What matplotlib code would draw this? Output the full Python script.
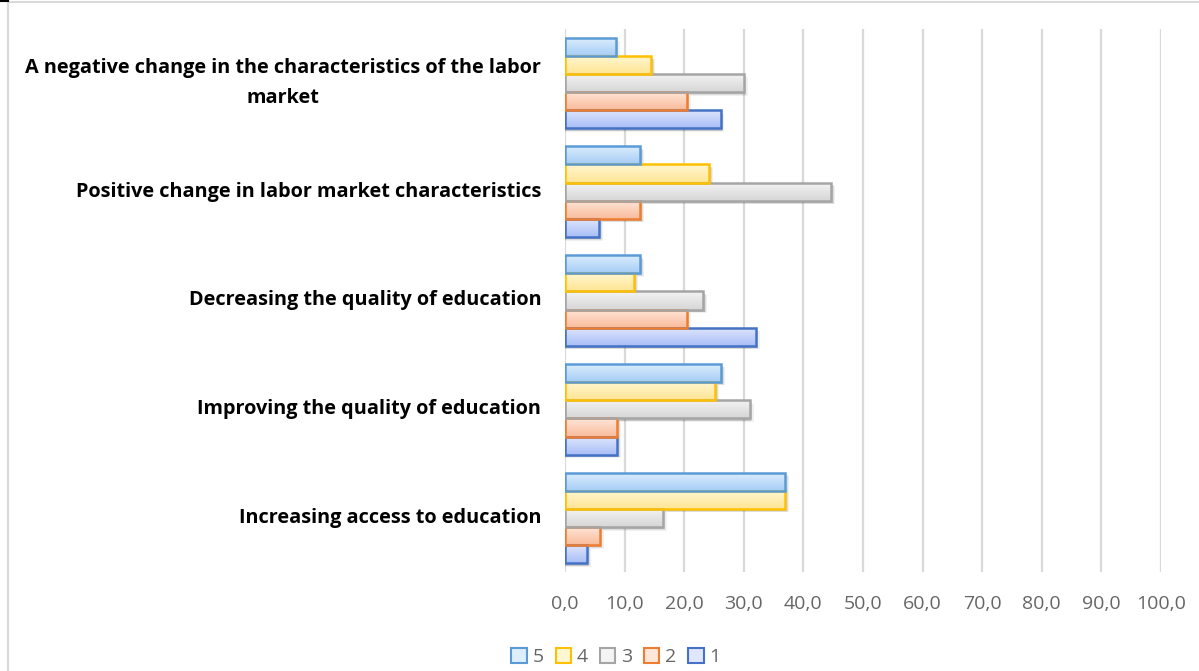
import matplotlib
matplotlib.use("Agg")
import matplotlib.pyplot as plt
import numpy as np
from matplotlib.colors import LinearSegmentedColormap
from matplotlib.lines import Line2D
from matplotlib.patches import Patch, Rectangle

categories = [
    "Increasing access to education",
    "Improving the quality of education",
    "Decreasing the quality of education",
    "Positive change in labor market characteristics",
    "A negative change in the characteristics of the labor\nmarket",
]
series_names = ["1", "2", "3", "4", "5"]
# values per series, in category order above (bottom -> top)
s1 = [3.7, 8.7, 32.0, 5.7, 26.1]
s2 = [5.8, 8.7, 20.4, 12.6, 20.4]
s3 = [16.4, 31.0, 23.2, 44.7, 30.0]
s4 = [36.9, 25.2, 11.6, 24.2, 14.5]
s5 = [36.9, 26.2, 12.6, 12.6, 8.5]
values = [s1, s2, s3, s4, s5]
xticks = np.arange(0, 101, 10)

# (edge, light top, darker bottom)
styles = [
    ("#4472C4", "#E0E7FD", "#A9BEF7"),
    ("#ED7D31", "#FFE6D8", "#F9BB9B"),
    ("#A5A5A5", "#F4F4F4", "#D6D6D6"),
    ("#FFC000", "#FFF7D2", "#FFE594"),
    ("#5B9BD5", "#DDEEFD", "#A6CDF5"),
]

fig = plt.figure(figsize=(11.99, 6.71), dpi=100)
ax = fig.add_axes([565 / 1199, 1 - 572.4 / 671, (1161 - 565) / 1199, (572.4 - 28.6) / 671])

y = np.arange(len(categories))
h = 0.167
grad = np.linspace(0, 1, 64).reshape(-1, 1)

for k, (vals, (edge, c_top, c_bot)) in enumerate(zip(values, styles)):
    offs = (k - 2) * h
    cmap = LinearSegmentedColormap.from_list(f"g{k}", [c_top, c_bot])
    # soft drop shadow
    for j, a in enumerate([0.10, 0.08, 0.06]):
        d = 0.4 + 0.35 * j
        ax.barh(y + offs - 0.02 - 0.006 * j, [v + d * 0.6 for v in vals], height=h,
                left=0, color="#000000", alpha=a, linewidth=0, zorder=2)
    bars = ax.barh(y + offs, vals, height=h, facecolor="none", edgecolor=edge,
                   linewidth=1.8, zorder=4)
    for b in bars:
        x0, y0 = b.get_x(), b.get_y()
        im = ax.imshow(grad, cmap=cmap, extent=[x0, x0 + b.get_width(), y0, y0 + b.get_height()],
                       origin="upper", aspect="auto", zorder=3, interpolation="bilinear")
        im.set_clip_path(b)
        ax.add_patch(Rectangle((x0, y0), b.get_width(), b.get_height(), facecolor=c_bot,
                               edgecolor="none", zorder=2.5))

ax.set_xlim(0, 100)
ax.set_ylim(-0.5, 4.5)
ax.set_aspect("auto")
ax.set_xticks(xticks)
ax.set_xticklabels([f"{t:.1f}".replace(".", ",") for t in xticks],
                   fontsize=14, color="#666666", family="Open Sans")
ax.tick_params(axis="x", length=0, pad=16)
ax.set_yticks(y)
ax.set_yticklabels([])
ax.tick_params(axis="y", length=0)
ax.grid(axis="x", color="#d9d9d9", linewidth=1.6, zorder=0)
ax.set_axisbelow(True)
for sp in ax.spines.values():
    sp.set_visible(False)

for yi, lab in zip(y, categories):
    ax.text(-4.0, yi, lab, ha="right", va="center", multialignment="center",
            fontsize=14.3, fontweight="bold", family="Open Sans", color="#000000",
            linespacing=1.7)

handles = [Patch(facecolor=styles[i][1], edgecolor=styles[i][0], linewidth=1.5)
           for i in range(4, -1, -1)]
labels = [series_names[i] for i in range(4, -1, -1)]
fig.legend(handles, labels, loc="center", bbox_to_anchor=(616 / 1199, 1 - 657 / 671),
           ncol=5, frameon=False, handlelength=0.8, handleheight=0.8,
           handletextpad=0.3, columnspacing=0.6, labelcolor="#666666",
           prop={"family": "Open Sans", "size": 14})

# chart area border
fig.add_artist(Line2D([8 / 1199, 8 / 1199], [0, 1 - 1.5 / 671], color="#d9d9d9", lw=1.5))
fig.add_artist(Line2D([8 / 1199, 1], [1 - 1.5 / 671, 1 - 1.5 / 671], color="#d9d9d9", lw=1.5))
fig.add_artist(Line2D([0, 8 / 1199], [1 - 0.5 / 671, 1 - 0.5 / 671], color="#000000", lw=1.5))

fig.savefig("out.png", dpi=100)
